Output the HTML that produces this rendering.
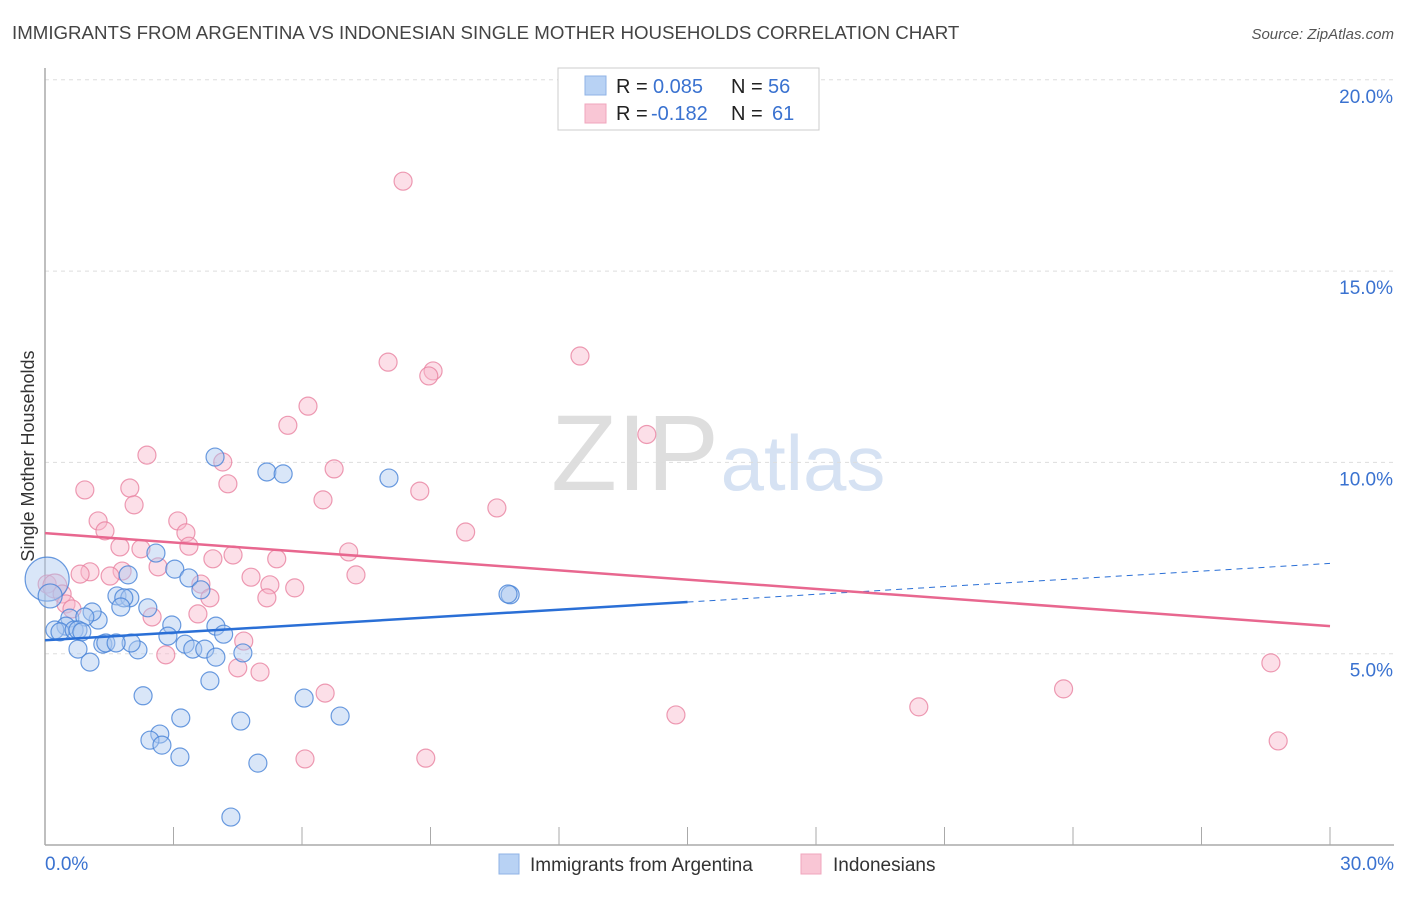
<!DOCTYPE html>
<html><head><meta charset="utf-8"><style>
body{margin:0;background:#fff;font-family:"Liberation Sans",sans-serif}
svg text{font-family:"Liberation Sans",sans-serif}
</style></head><body>
<svg id="c" width="1406" height="892" xmlns="http://www.w3.org/2000/svg">
<text x="12" y="39" font-size="18.7" fill="#444">IMMIGRANTS FROM ARGENTINA VS INDONESIAN SINGLE MOTHER HOUSEHOLDS CORRELATION CHART</text>
<text x="1394" y="39" font-size="15" fill="#555" font-style="italic" text-anchor="end">Source: ZipAtlas.com</text>
<text x="0" y="0" transform="translate(34,456) rotate(-90)" font-size="18" fill="#333" text-anchor="middle">Single Mother Households</text>
<g><text x="635" y="490" font-size="108" fill="#dedede" font-family="Liberation Serif" text-anchor="middle">ZIP</text><text x="803" y="490" font-size="78" fill="#d6e2f3" text-anchor="middle">atlas</text></g>
<g id="grid"></g><g id="axes"></g><g id="pts"></g><g id="lines"></g>
<g>
<rect x="558" y="68" width="261" height="62" fill="#fff" stroke="#ccc"/>
<rect x="585" y="76" width="21" height="19" fill="#b8d2f4" stroke="#8fb3e6"/>
<rect x="585" y="104" width="21" height="19" fill="#f9c6d5" stroke="#f0a6bd"/>
<text x="616" y="93" font-size="20" fill="#222">R = </text><text x="653" y="93" font-size="20" fill="#3a72d0">0.085</text>
<text x="731" y="93" font-size="20" fill="#222">N = </text><text x="768" y="93" font-size="20" fill="#3a72d0">56</text>
<text x="616" y="120" font-size="20" fill="#222">R = </text><text x="651" y="120" font-size="20" fill="#3a72d0">-0.182</text>
<text x="731" y="120" font-size="20" fill="#222">N = </text><text x="772" y="120" font-size="20" fill="#3a72d0">61</text>
</g>
<g>
<rect x="499" y="854" width="20" height="20" fill="#b8d2f4" stroke="#8fb3e6"/>
<text x="530" y="871" font-size="19" fill="#333">Immigrants from Argentina</text>
<rect x="801" y="854" width="20" height="20" fill="#f9c6d5" stroke="#f0a6bd"/>
<text x="833" y="871" font-size="19" fill="#333">Indonesians</text>
</g>
</svg>
<script>
const xTicks=[0,3,6,9,12,15,18,21,24,27,30];
const yTicks=[5,10,15,20];
const yTickLabels=["5.0%","10.0%","15.0%","20.0%"];
const blueX=[3.97,5.18,5.56,8.03,2.59,1.94,3.03,3.36,1.68,1.98,1.84,1.77,2.40,3.64,1.24,0.58,1.10,0.93,0.49,0.23,0.35,0.68,0.77,0.86,2.96,3.99,4.17,2.87,2.17,2.01,1.35,1.42,1.66,3.27,3.45,3.73,3.99,4.62,0.77,1.05,3.85,2.29,6.05,6.89,3.17,2.68,2.45,2.73,4.57,3.15,4.97,4.34,10.86,10.81,0.05,0.12];
const blueY=[10.14,9.75,9.70,9.59,7.63,7.06,7.21,6.98,6.51,6.46,6.46,6.22,6.20,6.67,5.88,5.93,6.09,5.96,5.72,5.62,5.57,5.62,5.62,5.57,5.75,5.72,5.51,5.46,5.10,5.28,5.25,5.28,5.28,5.25,5.12,5.12,4.91,5.02,5.12,4.78,4.29,3.90,3.84,3.37,3.32,2.90,2.74,2.61,3.24,2.30,2.14,0.73,6.54,6.56,6.95,6.51];
const blueR=[9,9,9,9,9,9,9,9,9,9,9,9,9,9,9,9,9,9,9,9,9,9,9,9,9,9,9,9,9,9,9,9,9,9,9,9,9,9,9,9,9,9,9,9,9,9,9,9,9,9,9,9,9,9,22,12];
const pinkX=[8.36,12.49,8.01,9.06,8.96,6.14,5.67,14.05,2.38,4.15,6.75,0.93,1.98,4.27,8.75,6.49,2.08,10.55,1.24,3.10,9.82,1.40,3.29,3.36,1.75,2.24,7.09,4.39,3.92,5.41,2.64,1.05,0.82,1.80,1.52,4.81,7.26,0.05,0.23,0.40,3.64,5.25,5.83,0.49,0.63,3.85,5.18,2.50,3.57,4.64,2.82,4.50,5.02,6.54,14.73,20.40,23.78,28.62,28.79,6.07,8.89];
const pinkY=[17.35,12.78,12.62,12.39,12.26,11.47,10.97,10.73,10.19,10.01,9.83,9.28,9.33,9.44,9.25,9.02,8.89,8.81,8.47,8.47,8.18,8.21,8.16,7.81,7.79,7.74,7.66,7.58,7.48,7.48,7.27,7.14,7.08,7.16,7.03,7.00,7.06,6.82,6.77,6.56,6.82,6.80,6.72,6.30,6.17,6.46,6.46,5.96,6.04,5.33,4.97,4.63,4.52,3.97,3.40,3.61,4.08,4.76,2.72,2.25,2.27];
const pinkR=[9,9,9,9,9,9,9,9,9,9,9,9,9,9,9,9,9,9,9,9,9,9,9,9,9,9,9,9,9,9,9,9,9,9,9,9,9,9,12,9,9,9,9,9,9,9,9,9,9,9,9,9,9,9,9,9,9,9,9,9,9];
const blueLine=[[0,5.35],[15,6.35],[30,7.36]];
const pinkLine=[[0,8.15],[30,5.72]];
const X=v=>45+v/30*1285, Y=v=>845-v/5*191.3;
const NS="http://www.w3.org/2000/svg";
function mk(p,t,a){const e=document.createElementNS(NS,t);for(const k in a)e.setAttribute(k,a[k]);document.getElementById(p).appendChild(e);return e;}
yTicks.forEach((t,i)=>{
 const g=mk('grid','line',{x1:45,x2:1394,y1:Y(t),y2:Y(t),stroke:'#ddd','stroke-dasharray':'4,4'});
 
 
 const tx=mk('axes','text',{x:1393,y:Y(t)+23,'font-size':19,fill:'#3a72d0','text-anchor':'end'});
 tx.textContent=yTickLabels[i];
 
 
});
const ya=mk('axes','line',{x1:45,x2:45,y1:68,y2:845,stroke:'#aaa','stroke-width':1.5});


const xa=mk('axes','line',{x1:45,x2:1394,y1:845,y2:845,stroke:'#aaa','stroke-width':1.5});


xTicks.forEach(t=>{
 const l=mk('axes','line',{x1:X(t),x2:X(t),y1:827,y2:845,stroke:'#aaa'});
 
 
});
const xl0=mk('axes','text',{x:45,y:870,'font-size':19,fill:'#3a72d0'});xl0.textContent='0.0%';


const xl1=mk('axes','text',{x:1394,y:870,'font-size':19,fill:'#3a72d0','text-anchor':'end'});xl1.textContent='30.0%';


pinkX.forEach((v,i)=>{
 const c=mk('pts','circle',{cx:X(v),cy:Y(pinkY[i]),r:pinkR[i],fill:'rgba(248,184,204,0.45)',stroke:'rgba(232,130,160,0.8)','stroke-width':1.2});
 
 
});
blueX.forEach((v,i)=>{
 const c=mk('pts','circle',{cx:X(v),cy:Y(blueY[i]),r:blueR[i],fill:'rgba(170,200,240,0.45)',stroke:'rgba(70,130,215,0.8)','stroke-width':1.2});
 
 
});
const b1=mk('lines','line',{x1:X(blueLine[0][0]),y1:Y(blueLine[0][1]),x2:X(blueLine[1][0]),y2:Y(blueLine[1][1]),stroke:'#2a6fd6','stroke-width':2.5});


const b2=mk('lines','line',{x1:X(blueLine[1][0]),y1:Y(blueLine[1][1]),x2:X(blueLine[2][0]),y2:Y(blueLine[2][1]),stroke:'#2a6fd6','stroke-width':1,'stroke-dasharray':'6,5'});


const p1=mk('lines','line',{x1:X(pinkLine[0][0]),y1:Y(pinkLine[0][1]),x2:X(pinkLine[1][0]),y2:Y(pinkLine[1][1]),stroke:'#e8678f','stroke-width':2.5});


</script>
</body></html>
